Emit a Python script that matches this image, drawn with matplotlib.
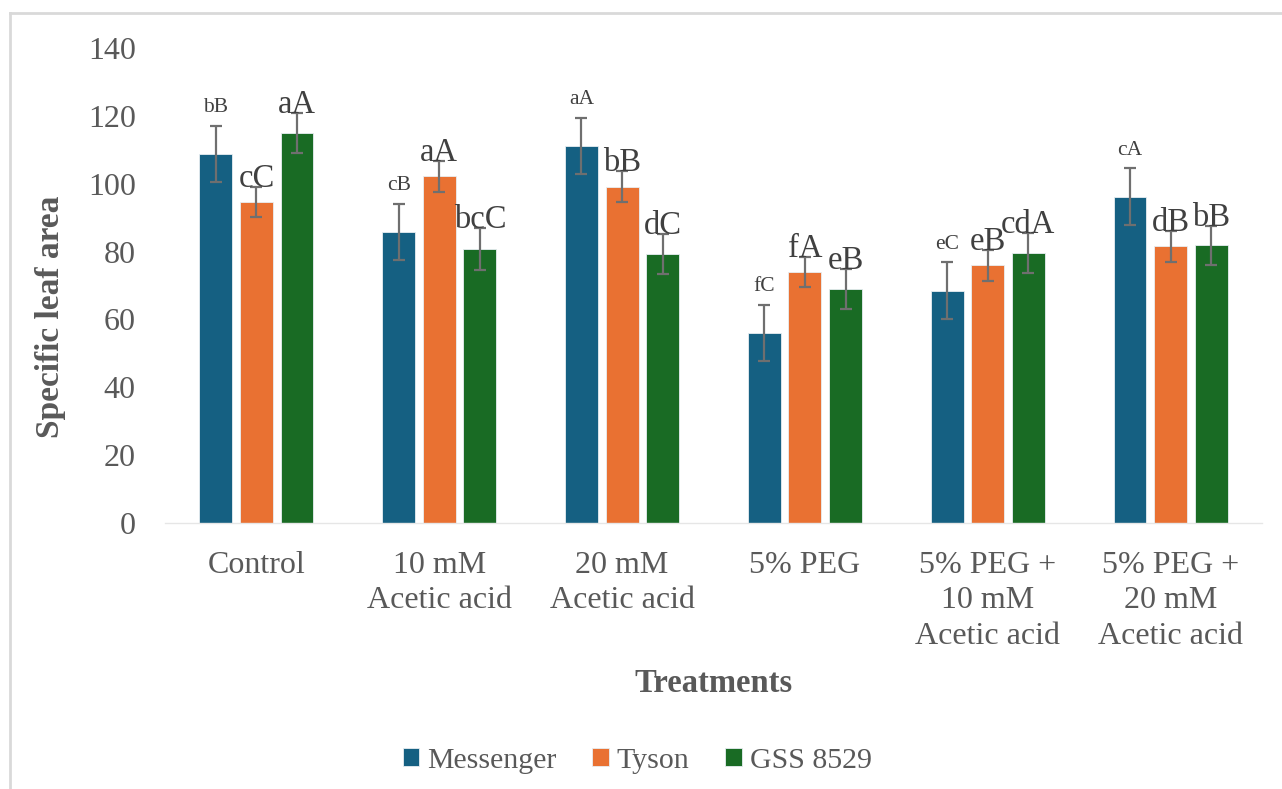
import numpy as np
import matplotlib.pyplot as plt
from matplotlib.patches import Patch
from matplotlib.lines import Line2D

plt.rcParams['font.family'] = ['Liberation Serif', 'DejaVu Serif']

# === data ===
treatments = ["Control", "10 mM\nAcetic acid", "20 mM\nAcetic acid", "5% PEG",
              "5% PEG +\n10 mM\nAcetic acid", "5% PEG +\n20 mM\nAcetic acid"]
cultivars = ["Messenger", "Tyson", "GSS 8529"]

messenger = [108.7, 85.8, 111.2, 56.0, 68.5, 96.2]
tyson = [94.6, 102.2, 99.1, 74.0, 75.9, 81.6]
gss = [115.0, 80.8, 79.2, 69.0, 79.6, 81.8]

messenger_err = [8.3, 8.3, 8.2, 8.2, 8.3, 8.3]
tyson_err = [4.5, 4.6, 4.6, 4.5, 4.7, 4.6]
gss_err = [5.9, 6.1, 5.9, 5.8, 5.8, 5.8]

messenger_lbl = ["bB", "cB", "aA", "fC", "eC", "cA"]
tyson_lbl = ["cC", "aA", "bB", "fA", "eB", "dB"]
gss_lbl = ["aA", "bcC", "dC", "eB", "cdA", "bB"]

colors = ["#156082", "#E97132", "#196B24"]
text_gray = "#595959"

fig = plt.figure(figsize=(12.82, 7.89), dpi=100)
ax = fig.add_axes([0.1287, 0.3371, 0.8557, 0.6021])

x = np.arange(len(treatments))
width = 0.18
step = 0.222

series = [
    (messenger, messenger_err, messenger_lbl, 15.5, 10),
    (tyson, tyson_err, tyson_lbl, 23.5, 0),
    (gss, gss_err, gss_lbl, 23.5, 0),
]

for i, (vals, errs, lbls, fsize, off) in enumerate(series):
    pos = x + (i - 1) * step
    ax.bar(pos, vals, width, color=colors[i], edgecolor="#e8eef2", linewidth=0.6,
           yerr=errs, capsize=4.6,
           error_kw=dict(ecolor="#6f6f6f", elinewidth=1.6, capthick=1.6),
           zorder=2)
    for xp, v, e, t in zip(pos, vals, errs, lbls):
        ax.annotate(t, (xp, v + e), xytext=(0, off), textcoords="offset points",
                    ha="center", va="baseline", fontsize=fsize, color="#404040",
                    zorder=3)

ax.set_xlim(-0.5, len(treatments) - 0.5)
ax.set_ylim(0, 140)
ax.set_yticks(np.arange(0, 141, 20))
ax.set_xticks(x)
ax.set_xticklabels(treatments, linespacing=1.3, va="top")

ax.tick_params(axis="y", length=0, pad=21, labelsize=23, labelcolor=text_gray)
ax.tick_params(axis="x", length=0, pad=20, labelsize=23, labelcolor=text_gray)

for side in ["top", "right", "left"]:
    ax.spines[side].set_visible(False)
ax.spines["bottom"].set_color("#e6e6e6")
ax.spines["bottom"].set_linewidth(1.0)

ax.set_ylabel("Specific leaf area", fontsize=24, fontweight="bold",
              color=text_gray)
ax.yaxis.set_label_coords((66 - 165) / 1097, 0.434)
fig.text(0.5565, 1 - 683 / 789, "Treatments", ha="center", va="center",
         fontsize=23.5, fontweight="bold", color=text_gray)

handles = [Patch(facecolor=c, edgecolor="#e8eef2", linewidth=0.6) for c in colors]
fig.legend(handles, cultivars, loc="center", bbox_to_anchor=(0.497, 0.036),
           ncol=3, frameon=False, fontsize=21.5, handlelength=0.55,
           handleheight=0.55, handletextpad=0.27, columnspacing=1.2,
           labelcolor=text_gray)

# light frame around the chart
border = "#d9d9d9"
fig.add_artist(Line2D([10 / 1282, 1.0], [1 - 13 / 789] * 2, color=border,
                      lw=2, transform=fig.transFigure))
fig.add_artist(Line2D([10 / 1282] * 2, [0, 1 - 13 / 789], color=border,
                      lw=2, transform=fig.transFigure))

fig.savefig("out.png", dpi=100, facecolor="white")
